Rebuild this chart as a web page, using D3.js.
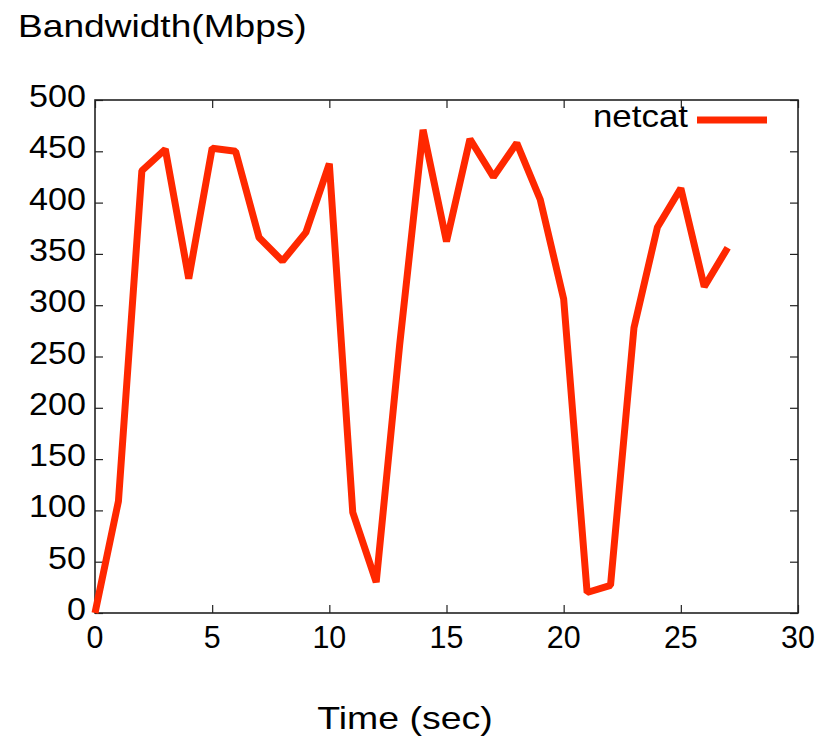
<!DOCTYPE html>
<html>
<head>
<meta charset="utf-8">
<script src="https://cdn.jsdelivr.net/npm/d3@7"></script>
<style>
body { margin: 0; background: #fff; }
text { font-family: "Liberation Sans", Arial, sans-serif; fill: #000; }
</style>
</head>
<body>
<div id="chart"></div>
<script>
// data
var seconds = [0, 1, 2, 3, 4, 5, 6, 7, 8, 9, 10, 11, 12, 13, 14, 15, 16, 17, 18, 19, 20, 21, 22, 23, 24, 25, 26, 27];
var bandwidth = [0, 109, 431, 452, 326, 453, 450, 366, 343, 371, 438, 98, 30, 261, 471, 362, 462, 425, 458, 403, 306, 20, 27, 278, 376, 414, 318, 356];
var xTicks = [0, 5, 10, 15, 20, 25, 30];
var yTicks = [0, 50, 100, 150, 200, 250, 300, 350, 400, 450, 500];
var seriesName = "netcat";

// set the dimensions and margins of the graph
var margin = {top: 100, right: 35, bottom: 129, left: 95},
width = 833 - margin.left - margin.right,
height = 742 - margin.top - margin.bottom;

var x = d3.scaleLinear().domain([0, 30]).range([0, width]);
var y = d3.scaleLinear().domain([0, 500]).range([height, 0]);

var svg = d3.select("#chart")
.append("svg")
.attr("width", 833)
.attr("height", 742);

var g = svg.append("g")
.attr("transform", "translate(" + margin.left + "," + margin.top + ")");

// text placed at (px,py), stretched sideways by sx
function stretched(sel, px, py, sx) {
    return sel.attr("transform", "translate(" + px + "," + py + ") scale(" + sx + ",1)");
}

// inward ticks on all four sides
var tickLen = 8;
g.append("g")
.attr("transform", "translate(0," + height + ")")
.call(d3.axisBottom(x).tickValues(xTicks).tickSizeInner(-tickLen).tickSizeOuter(0).tickFormat(""));
g.append("g")
.call(d3.axisTop(x).tickValues(xTicks).tickSizeInner(-tickLen).tickSizeOuter(0).tickFormat(""));
g.append("g")
.call(d3.axisLeft(y).tickValues(yTicks).tickSizeInner(-tickLen).tickSizeOuter(0).tickFormat(""));
g.append("g")
.attr("transform", "translate(" + width + ",0)")
.call(d3.axisRight(y).tickValues(yTicks).tickSizeInner(-tickLen).tickSizeOuter(0).tickFormat(""));

g.selectAll(".domain").remove();
g.selectAll(".tick line").attr("stroke", "#222").attr("stroke-width", 1.2);

// frame
g.append("rect")
.attr("width", width)
.attr("height", height)
.attr("fill", "none")
.attr("stroke", "#222")
.attr("stroke-width", 1.6);

// tick labels
g.selectAll(".xlab")
.data(xTicks)
.enter().append("text")
.attr("transform", function(d) { return "translate(" + x(d) + "," + (height + 35) + ") scale(0.95,1)"; })
.attr("text-anchor", "middle")
.style("font-size", "32px")
.text(function(d) { return d; });

g.selectAll(".ylab")
.data(yTicks)
.enter().append("text")
.attr("transform", function(d) { return "translate(-9," + (y(d) + 7) + ") scale(1.1,1)"; })
.attr("text-anchor", "end")
.style("font-size", "31px")
.text(function(d) { return d; });

// the line
var valueline = d3.line()
.x(function(d, i) { return x(seconds[i]); })
.y(function(d) { return y(d); });

g.append("path")
.attr("d", valueline(bandwidth))
.attr("fill", "none")
.attr("stroke", "#ff2800")
.attr("stroke-width", 7)
.attr("stroke-linejoin", "bevel");

// legend
stretched(g.append("text"), 593, 27, 1.09)
.attr("text-anchor", "end")
.style("font-size", "32px")
.text(seriesName);
g.append("line")
.attr("x1", 602)
.attr("x2", 672)
.attr("y1", 20)
.attr("y2", 20)
.attr("stroke", "#ff2800")
.attr("stroke-width", 7);

// axis titles
stretched(svg.append("text"), 18, 37, 1.16)
.style("font-size", "32px")
.text("Bandwidth(Mbps)");

stretched(svg.append("text"), 405, 729, 1.17)
.attr("text-anchor", "middle")
.style("font-size", "32px")
.text("Time (sec)");
</script>
</body>
</html>
